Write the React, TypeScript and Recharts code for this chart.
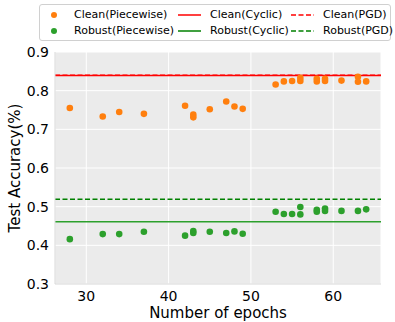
import React from 'react';
import {
  ScatterChart,
  Scatter,
  XAxis,
  YAxis,
  CartesianGrid,
  ReferenceLine,
  Label,
} from 'recharts';

const FONT = '"DejaVu Sans", sans-serif';

const cleanEpochs = [28, 32, 34, 37, 42, 43, 43, 45, 47, 48, 49, 53, 54, 55, 56, 56, 58, 58, 59, 59, 61, 63, 63, 64];
const cleanAcc = [0.755, 0.733, 0.745, 0.74, 0.761, 0.738, 0.731, 0.752, 0.772, 0.759, 0.753, 0.816, 0.824, 0.825, 0.833, 0.825, 0.831, 0.824, 0.831, 0.825, 0.826, 0.836, 0.823, 0.824];

const robustEpochs = [28, 32, 34, 37, 42, 43, 43, 45, 47, 48, 49, 53, 54, 55, 56, 56, 58, 58, 59, 59, 61, 63, 64];
const robustAcc = [0.416, 0.429, 0.429, 0.435, 0.425, 0.437, 0.432, 0.435, 0.432, 0.436, 0.43, 0.487, 0.481, 0.481, 0.499, 0.48, 0.492, 0.487, 0.495, 0.489, 0.489, 0.489, 0.493];

const cleanCyclic = 0.839;
const cleanPGD = 0.84;
const robustCyclic = 0.461;
const robustPGD = 0.519;

const xTicks = [30, 40, 50, 60];
const yTicks = [0.3, 0.4, 0.5, 0.6, 0.7, 0.8, 0.9];

const cleanPts = cleanEpochs.map((x, i) => ({ x, y: cleanAcc[i] }));
const robustPts = robustEpochs.map((x, i) => ({ x, y: robustAcc[i] }));

const ORANGE = '#ff7f0e';
const GREEN_DOT = '#2ca02c';
const RED = '#ff0000';
const GREEN = '#008000';

const legendItems = [
  { label: 'Clean(Piecewise)', kind: 'dot', color: ORANGE },
  { label: 'Clean(Cyclic)', kind: 'line', color: RED },
  { label: 'Clean(PGD)', kind: 'dash', color: RED },
  { label: 'Robust(Piecewise)', kind: 'dot', color: GREEN_DOT },
  { label: 'Robust(Cyclic)', kind: 'line', color: GREEN },
  { label: 'Robust(PGD)', kind: 'dash', color: GREEN },
];

const colX = [0, 124, 237];

function LegendBox() {
  return (
    <div
      style={{
        position: 'absolute',
        left: 39,
        top: 4,
        width: 352,
        height: 37,
        border: '1px solid #d0d0d0',
        borderRadius: 3,
        background: '#fff',
        fontFamily: FONT,
        fontSize: 11,
        color: '#000',
        boxSizing: 'border-box',
      }}
    >
      {legendItems.map((it, i) => {
        const col = i % 3;
        const row = Math.floor(i / 3);
        const left = colX[col];
        const top = 3 + row * 16;
        return (
          <div key={it.label} style={{ position: 'absolute', left, top, height: 14, whiteSpace: 'nowrap' }}>
            <svg width={40} height={14} style={{ position: 'absolute', left: 0, top: 0 }}>
              {it.kind === 'dot' && <circle cx={14} cy={7} r={3} fill={it.color} />}
              {it.kind === 'line' && <line x1={14} x2={37} y1={7} y2={7} stroke={it.color} strokeWidth={1.5} />}
              {it.kind === 'dash' && (
                <line x1={14} x2={37} y1={7} y2={7} stroke={it.color} strokeWidth={1.5} strokeDasharray="5 2.5" />
              )}
            </svg>
            <span style={{ position: 'absolute', left: it.kind === 'dot' ? 34 : 46, top: 0, lineHeight: '14px' }}>
              {it.label}
            </span>
          </div>
        );
      })}
    </div>
  );
}

function YLabel(props: any) {
  const vb = props.viewBox || {};
  const cx = 15;
  const cy = (vb.y || 0) + (vb.height || 0) / 2;
  return (
    <text
      x={cx}
      y={cy}
      transform={`rotate(-90 ${cx} ${cy})`}
      textAnchor="middle"
      dominantBaseline="central"
      fontFamily={FONT}
      fontSize={15}
      fill="#000"
    >
      Test Accuracy(%)
    </text>
  );
}

function XLabel(props: any) {
  const vb = props.viewBox || {};
  const cx = (vb.x || 0) + (vb.width || 0) / 2;
  return (
    <text x={cx} y={318} textAnchor="middle" fontFamily={FONT} fontSize={15} fill="#000">
      Number of epochs
    </text>
  );
}

const Dot = (props: any) => <circle cx={props.cx} cy={props.cy} r={3.3} fill={props.fill} />;

export default function App() {
  return (
    <div style={{ position: 'absolute', left: 0, top: 0, width: 395, height: 322, background: '#fff' }}>
      <ScatterChart width={395} height={322} margin={{ top: 52, right: 14, bottom: 8, left: 10 }}>
        <CartesianGrid fill="#ebebeb" stroke="#ffffff" strokeWidth={1} />
        <XAxis
          type="number"
          dataKey="x"
          domain={[26.2, 65.8]}
          ticks={xTicks}
          allowDataOverflow
          height={30}
          tickLine={false}
          tickSize={4}
          tickMargin={3}
          axisLine={{ stroke: '#d8d8d8' }}
          tick={{ fontFamily: FONT, fontSize: 14, fill: '#000' }}
        >
          <Label content={XLabel} />
        </XAxis>
        <YAxis
          type="number"
          dataKey="y"
          domain={[0.3, 0.9]}
          ticks={yTicks}
          allowDataOverflow
          width={45}
          tickLine={false}
          tickSize={4}
          tickMargin={2}
          axisLine={{ stroke: '#d8d8d8' }}
          tickFormatter={(v: number) => v.toFixed(1)}
          tick={{ fontFamily: FONT, fontSize: 14, fill: '#000' }}
        >
          <Label content={YLabel} />
        </YAxis>
        <ReferenceLine y={cleanCyclic} stroke={RED} strokeWidth={1.5} />
        <ReferenceLine y={cleanPGD} stroke={RED} strokeWidth={1.5} strokeDasharray="5 2.5" />
        <ReferenceLine y={robustCyclic} stroke={GREEN_DOT} strokeWidth={1.5} />
        <ReferenceLine y={robustPGD} stroke={GREEN} strokeWidth={1.5} strokeDasharray="5 2.5" />
        <Scatter name="Clean(Piecewise)" data={cleanPts} fill={ORANGE} shape={Dot} isAnimationActive={false} />
        <Scatter name="Robust(Piecewise)" data={robustPts} fill={GREEN_DOT} shape={Dot} isAnimationActive={false} />
      </ScatterChart>
      <LegendBox />
    </div>
  );
}
